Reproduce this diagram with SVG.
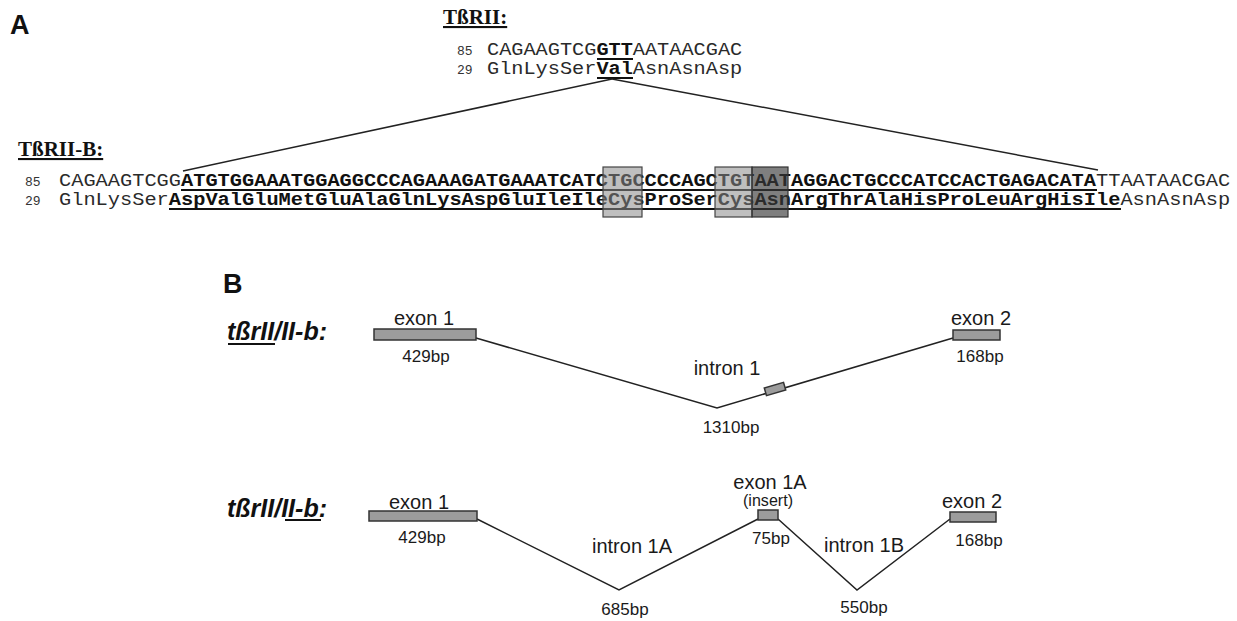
<svg xmlns="http://www.w3.org/2000/svg" width="1237" height="621" viewBox="0 0 1237 621">
<style>
.mono{font-family:"Liberation Mono","Courier New",monospace;font-size:19px;fill:#2a2a2a}
.b{font-weight:bold;fill:#111}
.num{font-family:"Liberation Mono",monospace;font-size:13px;fill:#333}
.panel{font-family:"Liberation Sans",Arial,sans-serif;font-weight:bold;font-size:27px;fill:#111}
.hdr{font-family:"Liberation Serif","Times New Roman",serif;font-weight:bold;font-size:21px;fill:#111;text-decoration:underline}
.gene{font-family:"Liberation Sans",Arial,sans-serif;font-weight:bold;font-style:italic;font-size:25px;fill:#111}
.lbl{font-family:"Liberation Sans",Arial,sans-serif;font-size:20px;fill:#1a1a1a;text-anchor:middle}
.sz{font-family:"Liberation Sans",Arial,sans-serif;font-size:17px;fill:#1a1a1a;text-anchor:middle}
.ul{stroke:#111;stroke-width:2}
.conn{stroke:#222;stroke-width:1.5;fill:none}
.exon{fill:#9c9c9c;stroke:#333;stroke-width:1.5}
</style>
<rect width="1237" height="621" fill="#fff"/>
<g id="panelA">
<text class="panel" x="10" y="34">A</text>
<g id="header-tbrii"><text class="hdr" x="443" y="24">TßRII:</text></g>
<g id="seq-tbrii">
<text class="num" x="457" y="55">85</text>
<text class="mono" x="487" y="55" textLength="109.4" lengthAdjust="spacingAndGlyphs">CAGAAGTCG</text>
<text class="mono b" x="596.4" y="55" textLength="36.4" lengthAdjust="spacingAndGlyphs">GTT</text>
<text class="mono" x="632.8" y="55" textLength="109.4" lengthAdjust="spacingAndGlyphs">AATAACGAC</text>
<text class="num" x="457" y="74">29</text>
<text class="mono" x="487" y="74" textLength="109.4" lengthAdjust="spacingAndGlyphs">GlnLysSer</text>
<text class="mono b" x="596.4" y="74" textLength="36.4" lengthAdjust="spacingAndGlyphs">Val</text>
<text class="mono" x="632.8" y="74" textLength="109.4" lengthAdjust="spacingAndGlyphs">AsnAsnAsp</text>
<line class="ul" x1="597" y1="59" x2="633" y2="59"/>
<line class="ul" x1="597" y1="78" x2="633" y2="78"/>
</g>
<g id="header-tbriib"><text class="hdr" x="18" y="156">TßRII-B:</text></g>
<g id="seq-tbriib">
<text class="num" x="25" y="186">85</text>
<text class="mono" x="59" y="186" textLength="122" lengthAdjust="spacingAndGlyphs">CAGAAGTCGG</text>
<text class="mono b" x="181" y="186" textLength="915" lengthAdjust="spacingAndGlyphs">ATGTGGAAATGGAGGCCCAGAAAGATGAAATCATCTGCCCCAGCTGTAATAGGACTGCCCATCCACTGAGACATA</text>
<text class="mono" x="1096" y="186" textLength="134.2" lengthAdjust="spacingAndGlyphs">TTAATAACGAC</text>
<text class="num" x="25" y="205">29</text>
<text class="mono" x="59" y="205" textLength="109.8" lengthAdjust="spacingAndGlyphs">GlnLysSer</text>
<text class="mono b" x="168.8" y="205" textLength="951.6" lengthAdjust="spacingAndGlyphs">AspValGluMetGluAlaGlnLysAspGluIleIleCysProSerCysAsnArgThrAlaHisProLeuArgHisIle</text>
<text class="mono" x="1120.4" y="205" textLength="109.8" lengthAdjust="spacingAndGlyphs">AsnAsnAsp</text>
<line class="ul" x1="181" y1="190" x2="1097" y2="190"/>
<line class="ul" x1="169" y1="209" x2="1121" y2="209"/>
<rect x="603" y="167" width="39" height="50" fill="#8a8a8a" fill-opacity="0.55" stroke="#444" stroke-width="1.2"/>
<rect x="715" y="167" width="37" height="50" fill="#8a8a8a" fill-opacity="0.55" stroke="#444" stroke-width="1.2"/>
<rect x="752" y="167" width="36" height="50" fill="#3a3a3a" fill-opacity="0.65" stroke="#333" stroke-width="1.2"/>
</g>
</g>
<g id="connectors">
<line class="conn" x1="612" y1="79" x2="183" y2="171" stroke-width="2"/>
<line class="conn" x1="612" y1="79" x2="1098" y2="170" stroke-width="2"/>
<polyline class="conn" points="476,338 717,408 953,338"/>
<polyline class="conn" points="477,519 619,590 758,519"/>
<polyline class="conn" points="778,519 857,590 950,519"/>
</g>
<g id="panelB">
<text class="panel" x="223" y="293">B</text>
<g id="row1">
<text class="gene" x="227" y="340">tßrII/II-b:</text>
<line x1="228" y1="344" x2="275" y2="344" stroke="#111" stroke-width="2"/>
<g id="r1-exon1"><rect class="exon" x="374" y="329" width="102" height="11"/><text class="lbl" x="424" y="325">exon 1</text><text class="sz" x="426" y="362">429bp</text></g>
<g id="r1-intron1"><text class="lbl" x="727" y="375">intron 1</text><text class="sz" x="731" y="433">1310bp</text><rect class="exon" x="765" y="385" width="20" height="8" transform="rotate(-16 775 389)"/></g>
<g id="r1-exon2"><rect class="exon" x="953" y="330" width="47" height="10"/><text class="lbl" x="981" y="325">exon 2</text><text class="sz" x="980" y="362">168bp</text></g>
</g>
<g id="row2">
<text class="gene" x="227" y="517">tßrII/II-b:</text>
<line x1="285" y1="520" x2="321" y2="520" stroke="#111" stroke-width="2"/>
<g id="r2-exon1"><rect class="exon" x="369" y="511" width="108" height="10"/><text class="lbl" x="419" y="509">exon 1</text><text class="sz" x="422" y="543">429bp</text></g>
<g id="r2-intron1a"><text class="lbl" x="632" y="553">intron 1A</text><text class="sz" x="625" y="615">685bp</text></g>
<g id="r2-exon1a"><rect class="exon" x="758" y="510" width="20" height="10"/><text class="lbl" x="770" y="489">exon 1A</text><text class="sz" x="768" y="506" font-size="14" textLength="50" lengthAdjust="spacingAndGlyphs">(insert)</text><text class="sz" x="771" y="544" font-size="14">75bp</text></g>
<g id="r2-intron1b"><text class="lbl" x="864" y="552">intron 1B</text><text class="sz" x="864" y="613">550bp</text></g>
<g id="r2-exon2"><rect class="exon" x="950" y="512" width="46" height="10"/><text class="lbl" x="972" y="508">exon 2</text><text class="sz" x="979" y="546">168bp</text></g>
</g>
</g>
</svg>
